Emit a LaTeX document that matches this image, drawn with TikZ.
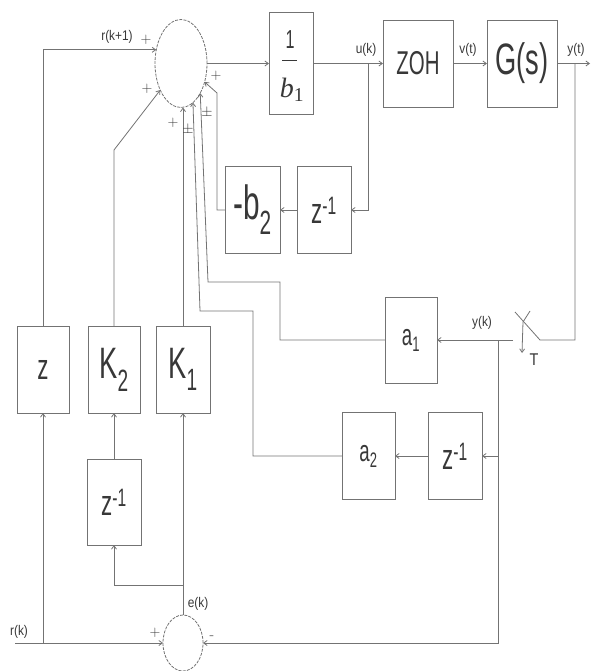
\documentclass[tikz,border=0pt]{standalone}
\usepackage{fontspec}
\usetikzlibrary{shapes.geometric,arrows.meta}
\newfontfamily\blockfont[FakeStretch=0.62]{Liberation Sans}
\newfontfamily\tagfont[FakeStretch=0.85]{Liberation Sans}
\newfontfamily\fracfont{Liberation Serif}
\newcommand\fsz[1]{\fontsize{#1}{#1}\selectfont}
\definecolor{wire}{gray}{0.45}
\definecolor{ink}{gray}{0.22}

\begin{document}
\begin{tikzpicture}[x=1pt, y=-1pt, >={Straight Barb[length=3.5pt,width=5pt]},
  wire/.style={draw=wire, line width=0.8pt},
  block/.style={wire, rectangle, inner sep=0pt, outer sep=0pt, text=ink,
    minimum width=53pt, minimum height=87pt, font=\blockfont},
  sumnode/.style={wire, ellipse, inner sep=0pt, outer sep=0pt,
    dash pattern=on 3pt off 1.2pt},
  tag/.style={text=ink, inner sep=0pt, font=\tagfont\fsz{14}},
  sign/.style={text=ink, inner sep=0pt, font=\fsz{15}}]
  \useasboundingbox (0,0) rectangle (595,671);

  % summing junctions
  \node[sumnode, minimum width=52pt, minimum height=88pt] (sumtop) at (181,63.5) {};
  \node[sumnode, minimum width=40pt, minimum height=56pt] (sumbot) at (183,643) {};

  % forward path
  \node[block, minimum width=44pt, minimum height=102pt] (binv) at (291,63.5) {};
  \node[text=ink, inner sep=0pt, font=\blockfont\fsz{26}] (bnum) at (290,40) {1};
  \node[text=ink, inner sep=0pt, font=\fracfont\itshape\fsz{28}] (bden) at (292,90) {b\textsubscript{\upshape 1}};
  \draw[draw=ink, line width=0.9pt] (282,60) -- (297,60);
  \node[block, minimum width=70pt] (zoh) at (418,63.5) {\fsz{33}ZOH};
  \node[block, minimum width=70pt] (gs) at (522,63.5) {\fsz{44}G(s)};

  % feedback of u(k)
  \node[block, minimum width=54pt] (zd1) at (324,210) {\fsz{36}z\textsuperscript{-1}};
  \node[block, minimum width=55pt] (nb2) at (252.5,210) {\fsz{48}-b\textsubscript{2}};

  % feedback of y(k)
  \node[block, minimum width=52pt, minimum height=86pt] (a1) at (411,340) {\fsz{30}a\textsubscript{1}};
  \node[block] (a2) at (368.5,456) {\fsz{30}a\textsubscript{2}};
  \node[block, minimum width=54pt] (zd2) at (455,456) {\fsz{36}z\textsuperscript{-1}};

  % reference and error gains
  \node[block, minimum width=52pt] (zbox) at (43,369.5) {\fsz{36}z};
  \node[block, minimum width=52pt] (k2) at (114,369.5) {\fsz{44}K\textsubscript{2}};
  \node[block, minimum width=54pt] (k1) at (183,369.5) {\fsz{44}K\textsubscript{1}};
  \node[block, minimum width=54pt, minimum height=86pt] (zd3) at (114,502) {\fsz{36}z\textsuperscript{-1}};

  \coordinate (rin) at (15,643);
  \coordinate (rbr) at (43,643);
  \coordinate (ubr) at (368,63.5);
  \coordinate (ybr) at (575,63.5);
  \coordinate (yout) at (590,63.5);
  \coordinate (ykbr) at (498,340);
  \coordinate (ebr) at (183,585);

  % inputs of the upper junction
  \draw[wire,->] (zbox.north) |- (sumtop.151);
  \draw[wire,->] (k2.north) -- ++(0,-176) -- (sumtop.232);
  \draw[wire,->] (k1.north) -- (k1.north |- sumtop.south);
  \draw[wire,->] (a2.west) -- (253,456) -- (253,311) -- (200,311) -- (sumtop.287);
  \draw[wire,->] (a1.west) -- (280,340) -- (280,282) -- (208,282) -- (sumtop.303);
  \draw[wire,->] (nb2.west) -- (217,210) -- (217,93) -- (sumtop.322);

  % forward path
  \draw[wire,->] (sumtop.east) -- (binv.west);
  \draw[wire,->] (binv.east) -- (zoh.west);
  \draw[wire,->] (ubr) |- (zd1.east);
  \draw[wire,->] (zd1.west) -- (nb2.east);
  \draw[wire,->] (zoh.east) -- (gs.west);
  \draw[wire,->] (gs.east) -- (yout);

  % sampler
  \draw[wire] (ybr) |- (540,340) -- (515,312);
  \draw[wire] (530,311) -- (523,322);
  \draw[wire,->] (523,322) -- (522,353);
  \draw[wire,->] (513,340) -- (a1.east);
  \draw[wire,->] (ykbr) |- (sumbot.east);
  \draw[wire,->] (498,456) -- (zd2.east);
  \draw[wire,->] (zd2.west) -- (a2.east);

  % lower junction
  \draw[wire,->] (rin) -- (sumbot.west);
  \draw[wire,->] (rbr) -- (zbox.south);
  \draw[wire,->] (sumbot.north) -- (k1.south);
  \draw[wire,->] (ebr) -| (zd3.south);
  \draw[wire,->] (zd3.north) -- (k2.south);

  % signal names
  \node[tag] (lrk1) at (117,37) {r(k+1)};
  \node[tag] (luk) at (366,50) {u(k)};
  \node[tag] (lvt) at (468,50) {v(t)};
  \node[tag] (lyt) at (576,50) {y(t)};
  \node[tag] (lyk) at (482,323) {y(k)};
  \node[tag, font=\tagfont\fsz{17}] (lT) at (534,360) {T};
  \node[tag] (lek) at (198,604) {e(k)};
  \node[tag] (lrk) at (19,632) {r(k)};

  % signs
  \node[sign] (s1) at (146,40) {+};
  \node[sign] (s2) at (147,89) {+};
  \node[sign] (s3) at (216,76) {+};
  \node[sign] (s4) at (173,123) {+};
  \node[sign] (s5) at (188,130) {$\pm$};
  \node[sign] (s6) at (207,113) {$\pm$};
  \node[sign] (s7) at (155,633) {+};
  \node[sign] (s8) at (212,638) {-};
\end{tikzpicture}
\end{document}
